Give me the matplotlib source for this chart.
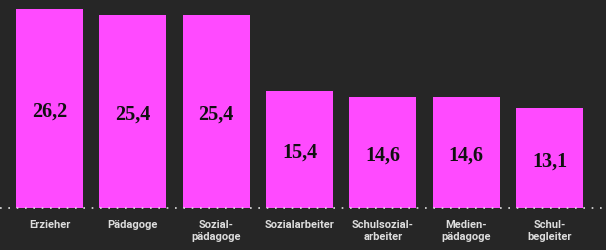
import matplotlib
matplotlib.use("Agg")
import matplotlib.pyplot as plt

categories = ["Erzieher", "Pädagoge", "Sozial-\npädagoge", "Sozialarbeiter",
              "Schulsozial-\narbeiter", "Medien-\npädagoge", "Schul-\nbegleiter"]
values = [26.2, 25.4, 25.4, 15.4, 14.6, 14.6, 13.1]
value_labels = ["26,2", "25,4", "25,4", "15,4", "14,6", "14,6", "13,1"]

bg = "#262626"
bar_color = "#FF4AFF"

fig = plt.figure(figsize=(6.06, 2.5), dpi=100, facecolor=bg)
ax = fig.add_axes([0, 42/250, 1, 208/250])
ax.set_facecolor(bg)
x = list(range(len(values)))
ax.bar(x, values, width=0.804, color=bar_color, zorder=2)
ax.set_xlim(-0.594, 6.678)
ax.set_ylim(0, 27.37)
for xi, v, lab in zip(x, values, value_labels):
    ax.annotate(lab, (xi, v/2), xytext=(0, -3), textcoords="offset pixels",
                ha="center", va="center", fontsize=14.5,
                fontweight="bold", family="Liberation Serif", color="#111111", zorder=3)
ax.axhline(0.05, color="#e0e0e0", linestyle=(0, (1, 4)), linewidth=1.2, zorder=4, clip_on=False)
for s in ax.spines.values():
    s.set_visible(False)
ax.set_yticks([])
ax.set_xticks(x)
ax.set_xticklabels(categories, fontsize=8.0, fontweight="bold", family="Roboto",
                   color="#dddddd", linespacing=1.2, va="top")
ax.tick_params(axis="x", length=0, pad=9)
fig.savefig("out.png", dpi=100, facecolor=bg)
